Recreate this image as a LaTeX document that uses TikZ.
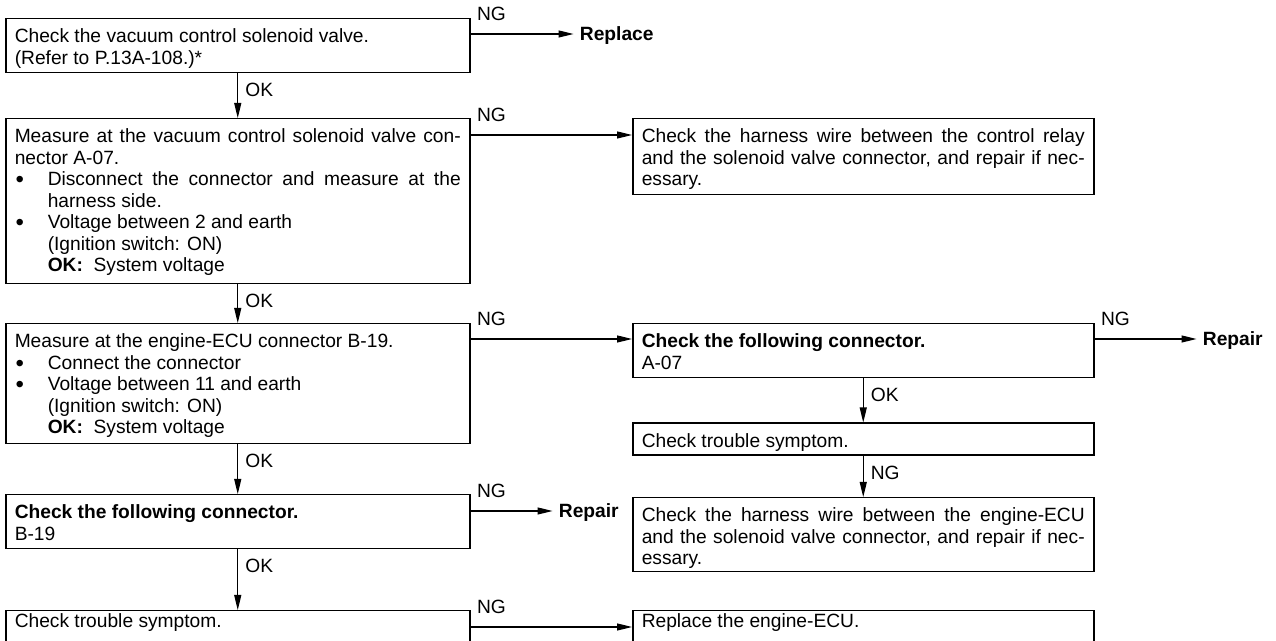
\documentclass[tikz,border=0pt]{standalone}
\usepackage{fontspec}
\setmainfont{Liberation Sans}
\usetikzlibrary{arrows.meta,calc,positioning}
\newcommand{\marca}{\par\noindent\makebox[16.5pt][l]{\hspace{0.5pt}\raisebox{-0.2ex}{\scalebox{1.25}{\textbullet}}}}
\newcommand{\continua}{\par\noindent\hspace*{16.5pt}}

\begin{document}
\begin{tikzpicture}[
  x=0.5pt,y=-0.5pt,
  passo/.style={draw,line width=0.75pt,anchor=north west,inner xsep=4.5pt,inner ysep=4pt,
                text width=223pt,align=justify,text height=8pt,text depth=#1,
                font=\fontsize{9.6}{10.75}\selectfont},
  passo/.default=11pt,
  passodir/.style={passo=#1,text width=221.5pt},
  passodir/.default=11pt,
  fim/.style={inner ysep=2pt,text height=6.5pt},
  resultado/.style={anchor=west,inner sep=3pt,text height=6.9pt,text depth=0pt,
                    font=\fontsize{9.6}{10.75}\selectfont\bfseries},
  rotulo/.style={inner sep=2pt,text height=6.9pt,text depth=0pt,font=\fontsize{9.6}{10.75}\selectfont},
  ligacao/.style={line width=0.6pt,-{Triangle[length=7.5pt,width=3.5pt]}}
]
  \useasboundingbox (0,0) rectangle (1276,641);
  \clip (0,0) rectangle (1276,641);

  \node[passo] (chk) at (5,18) {Check the vacuum control solenoid valve.\\(Refer to P.13A-108.)*};
  \node[passo=66.5pt] (medvalv) at (5,118) {Measure at the vacuum control solenoid valve con-\linebreak nector A-07.
    \marca Disconnect the connector and measure at the\linebreak\hspace*{16.5pt}harness side.
    \marca Voltage between 2 and earth
    \continua (Ignition switch: ON)
    \continua \textbf{OK:}\ \ System voltage};
  \node[passo=44pt] (medecu) at (5,323) {Measure at the engine-ECU connector B-19.
    \marca Connect the connector
    \marca Voltage between 11 and earth
    \continua (Ignition switch: ON)
    \continua \textbf{OK:}\ \ System voltage};
  \node[passo] (conB) at (5,494) {\textbf{Check the following connector.}\\B-19};
  \node[passo,fim] (sint) at (5,610) {Check trouble symptom.};

  \node[passodir=22pt] (fiacao1) at (632,118) {Check the harness wire between the control relay\linebreak and the solenoid valve connector, and repair if nec-\linebreak essary.};
  \node[passodir] (conA) at (632,323) {\textbf{Check the following connector.}\\A-07};
  \node[passodir=0pt,below=22pt of conA] (sint2) {Check trouble symptom.};
  \node[passodir=21pt,below=20.5pt of sint2] (fiacao2) {Check the harness wire between the engine-ECU\linebreak and the solenoid valve connector, and repair if nec-\linebreak essary.};
  \node[passodir,fim] (trocaecu) at (632,610) {Replace the engine-ECU.};

  \node[resultado] (repl) at ($(chk.north east)+(103,16)$) {Replace};
  \node[resultado] (repB) at ($(conB.north east)+(82,17)$) {Repair};
  \node[resultado] (repA) at ($(conA.north east)+(102,16)$) {Repair};

  \draw[ligacao] (chk) -- node[rotulo,pos=0,anchor=north west,yshift=-2.5pt,xshift=1.5pt] {OK} (medvalv);
  \draw[ligacao] (medvalv) -- node[rotulo,pos=0,anchor=north west,yshift=-2.5pt,xshift=1.5pt] {OK} (medecu);
  \draw[ligacao] (medecu) -- node[rotulo,pos=0,anchor=north west,yshift=-2.5pt,xshift=1.5pt] {OK} (conB);
  \draw[ligacao] (conB) -- node[rotulo,pos=0,anchor=north west,yshift=-2.5pt,xshift=1.5pt] {OK} (sint);
  \draw[ligacao] (conA) -- node[rotulo,pos=0,anchor=north west,yshift=-2.5pt,xshift=1.5pt] {OK} (sint2);
  \draw[ligacao] (sint2) -- node[rotulo,pos=0,anchor=north west,yshift=-2.5pt,xshift=1.5pt] {NG} (fiacao2);

  \draw[ligacao] ($(chk.north east)+(0,16)$) -- node[rotulo,pos=0,anchor=south west,yshift=4.5pt,xshift=1pt] {NG} (repl.west);
  \draw[ligacao] ($(medvalv.north east)+(0,17)$) -- node[rotulo,pos=0,anchor=south west,yshift=4.5pt,xshift=1pt] {NG} ($(fiacao1.north west)+(0,17)$);
  \draw[ligacao] ($(medecu.north east)+(0,16)$) -- node[rotulo,pos=0,anchor=south west,yshift=4.5pt,xshift=1pt] {NG} ($(conA.north west)+(0,16)$);
  \draw[ligacao] ($(conA.north east)+(0,16)$) -- node[rotulo,pos=0,anchor=south west,yshift=4.5pt,xshift=1pt] {NG} (repA.west);
  \draw[ligacao] ($(conB.north east)+(0,17)$) -- node[rotulo,pos=0,anchor=south west,yshift=4.5pt,xshift=1pt] {NG} (repB.west);
  \draw[ligacao] ($(sint.north east)+(0,17)$) -- node[rotulo,pos=0,anchor=south west,yshift=4.5pt,xshift=1pt] {NG} ($(trocaecu.north west)+(0,17)$);
\end{tikzpicture}
\end{document}
